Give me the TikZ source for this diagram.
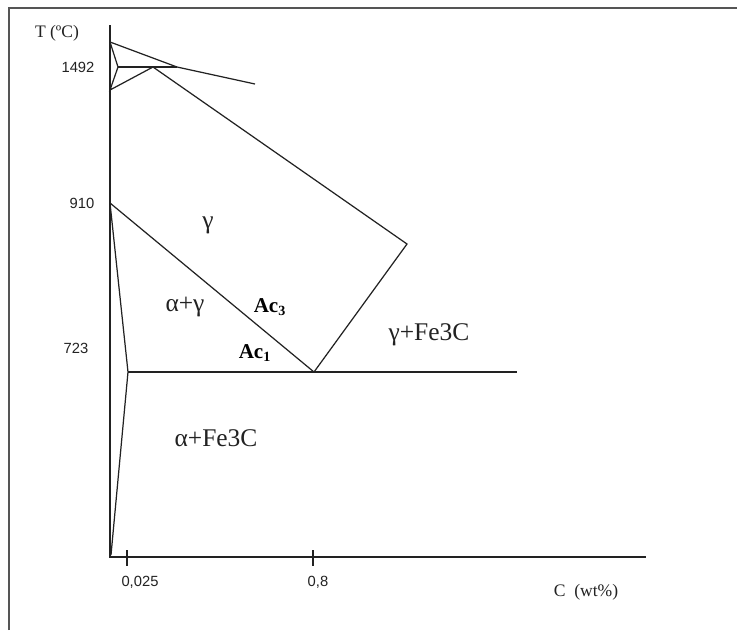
\documentclass[tikz,border=0pt]{standalone}
\usepackage{fontspec}
\setmainfont{Liberation Serif}
\newfontfamily\numfont{Liberation Sans}
\usepackage{xcolor}
\usetikzlibrary{positioning}
\definecolor{fInk}{HTML}{222222}
\definecolor{fFrame}{HTML}{555555}

\begin{document}
\begin{tikzpicture}[x=0.02cm, y=-0.02cm,
          phase/.style={inner sep=0pt, font=\fontsize{14.5}{16}\selectfont, text=fInk},
          crit/.style={inner sep=0pt, font=\fontsize{12}{14}\selectfont\bfseries, text=black},
          numlbl/.style={inner sep=0pt, font=\numfont\fontsize{8.4}{10}\selectfont, text=fInk},
          axlbl/.style={inner sep=0pt, font=\fontsize{10}{12}\selectfont, text=fInk},
          curve/.style={line width=0.7pt, fInk, line join=miter}]
        \useasboundingbox (0,0) rectangle (737,630);
        % frame
        \draw[line width=1pt, fFrame] (9,630) -- (9,8) -- (737,8);
        % key points
        \coordinate (top) at (110,25);
        \coordinate (orig) at (110,557);
        \coordinate (xend) at (646,557);
        \coordinate (dTop) at (110,42);
        \coordinate (dLow) at (110,90);
        \coordinate (dMid) at (118,67);
        \coordinate (peri) at (153,67);
        \coordinate (liqP) at (177,67);
        \coordinate (liqE) at (255,84);
        \coordinate (acm) at (407,244);
        \coordinate (eut) at (314,372);
        \coordinate (g910) at (110,203);
        \coordinate (aMax) at (128,372);
        \coordinate (aLow) at (111,555);
        \coordinate (eutE) at (517,372);
        \coordinate (t1) at (127,550);
        \coordinate (t1b) at (127,566);
        \coordinate (t2) at (313,550);
        \coordinate (t2b) at (313,566);
        % axes
        \draw[curve] (top) -- (orig) -- (xend);
        \draw[curve] (t1) -- (t1b);
        \draw[curve] (t2) -- (t2b);
        % delta corner
        \draw[curve] (dTop) -- (dMid) -- (dLow) -- (peri);
        \draw[curve] (dMid) -- (liqP);
        \draw[curve] (dTop) -- (liqP) -- (liqE);
        % austenite field
        \draw[curve] (peri) -- (acm) -- (eut);
        \draw[curve] (g910) -- (eut);
        \draw[curve] (g910) -- (aMax) -- (aLow);
        \draw[curve] (aMax) -- (eutE);
        % labels
        \node[axlbl] (tAx) at (57,33) {T (ºC)};
        \node[axlbl] (cAx) at (586,592) {C\ \ (wt\%)};
        \node[numlbl] (n1492) at (78,67) {1492};
        \node[numlbl] (n910) at (82,203) {910};
        \node[numlbl] (n723) at (76,348) {723};
        \node[numlbl] (n025) at (140,582) {0,025};
        \node[numlbl] (n08) at (318,582) {0,8};
        \node[phase] (gam) at (208,225) {γ};
        \node[phase] (ag) at (185,307) {α+γ};
        \node[phase] (gF) at (429,335) {γ+Fe3C};
        \node[phase] (aF) at (216,438) {α+Fe3C};
        \node[crit] (ac3) at (270,307) {Ac\textsubscript{3}};
        \node[crit] (ac1) at (255,353) {Ac\textsubscript{1}};
      \end{tikzpicture}
\end{document}
